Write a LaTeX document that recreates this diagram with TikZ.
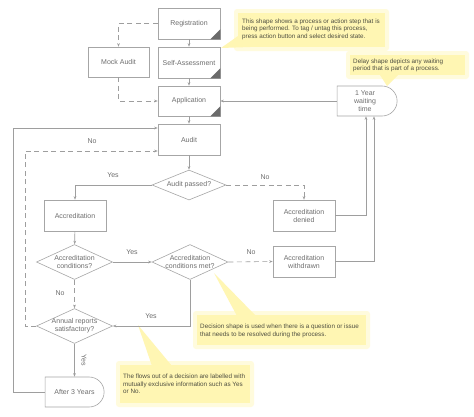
\documentclass[tikz,border=0pt]{standalone}
\usepackage{fontspec}
\setmainfont{Liberation Sans}
\usetikzlibrary{shapes.geometric,shapes.misc,arrows.meta,calc}
\definecolor{ln}{HTML}{9E9E9E}
\definecolor{bd}{HTML}{A6A6A6}
\definecolor{tx}{HTML}{6E6E6E}
\definecolor{ct}{HTML}{4E4E40}
\definecolor{cy}{HTML}{FFF6B3}
\definecolor{cglow}{HTML}{FFFBDD}
\definecolor{crn}{HTML}{6A6A6A}
\begin{document}
\begin{tikzpicture}[x=1pt,y=-1pt]
\tikzset{
  proc/.style={rectangle, draw=bd, line width=0.6pt, fill=white, minimum width=62pt, minimum height=31pt, inner sep=1pt, font=\fontsize{7}{8}\selectfont, text=tx, align=center},
  dec/.style={diamond, draw=bd, line width=0.6pt, fill=white, minimum width=76pt, minimum height=35pt, inner sep=0pt},
  dtext/.style={font=\fontsize{7}{8}\selectfont, text=tx, align=center, inner sep=0pt},
  dly/.style={rounded rectangle, rounded rectangle west arc=none, draw=bd, line width=0.6pt, fill=white, minimum width=62pt, minimum height=30pt, inner sep=1pt, font=\fontsize{7}{8}\selectfont, text=tx, align=center},
  arr/.style={draw=ln, line width=0.6pt, -{Stealth[length=3.5pt,width=2.6pt]}},
  dsh/.style={dash pattern=on 5pt off 3.5pt},
  lbl/.style={font=\fontsize{7}{8}\selectfont, text=tx, inner sep=0pt},
  cbox/.style={fill=cy},
  cglowst/.style={fill=cglow, rounded corners=3pt},
  ctext/.style={font=\fontsize{6.3}{7.6}\selectfont, text=ct, align=left, anchor=north west, inner sep=0pt}
}
\useasboundingbox (0,0) rectangle (474,416);
\fill[white] (0,0) rectangle (474,416);

% ---- callouts (behind) ----
\fill[cglowst] (234,9) rectangle (389,51);
\fill[cbox] (238,36) -- (221,48) -- (250,47) -- cycle;
\fill[cbox] (238,13) rectangle (385,47);
\node[ctext] (c1) at (242,18.3) {This shape shows a process or action step that is\\being performed. To tag / untag this process,\\press action button and select desired state.};

\fill[cglowst] (346,51) rectangle (469,79);
\fill[cbox] (380,75) -- (387,86) -- (398,75) -- cycle;
\fill[cbox] (350,55) rectangle (465,75);
\node[ctext] (c2) at (353,58.5) {Delay shape depicts any waiting\\period that is part of a process.};

\fill[cglowst] (193,311) rectangle (370,349);
\fill[cbox] (214,273) -- (237,316) -- (256,316) -- cycle;
\fill[cbox] (197,315) rectangle (366,345);
\node[ctext] (c3) at (200,323.8) {Decision shape is used when there is a question or issue\\that needs to be resolved during the process.};

\fill[cglowst] (116,361) rectangle (254,407);
\fill[cbox] (138,325) -- (152,366) -- (172,366) -- cycle;
\fill[cbox] (120,365) rectangle (250,403);
\node[ctext] (c4) at (123,373.8) {The flows out of a decision are labelled with\\mutually exclusive information such as Yes\\or No.};

% ---- nodes ----
\node[proc] (reg) at (189,23.5) {Registration};
\node[proc] (self) at (189,62.5) {Self-Assessment};
\node[proc, minimum width=61pt, minimum height=30pt] (mock) at (118.5,62) {Mock Audit};
\node[proc, minimum height=30pt] (app) at (189,101) {Application};
\node[proc] (audit) at (189,139.5) {Audit};
\node[dec, minimum width=74pt, minimum height=30pt] (ap) at (189,185) {};
\node[dtext] (apt) at (ap) {Audit passed?};
\node[proc] (acc) at (75,215.5) {Accreditation};
\node[dec] (acq) at (74.5,262) {};
\node[dtext] (acqt) at (acq) {Accreditation\\conditions?};
\node[dec] (acm) at (190,262) {};
\node[dtext] (acmt) at (acm) {Accreditation\\conditions met?};
\node[dec] (ann) at (74.5,326) {};
\node[dtext] (annt) at (ann) {Annual reports\\satisfactory?};
\node[dly, minimum width=61pt] (aft) at (74.5,392) {After 3 Years};
\node[dly] (yr) at (365,101) {1 Year\\waiting\\time};
\node[proc] (den) at (304,215.5) {Accreditation\\denied};
\node[proc] (wd) at (304,261.5) {Accreditation\\withdrawn};

% process corner marks
\foreach \n in {reg,self,app}{
  \fill[crn] (\n.south east) -- ++(-10,0) -- ++(10,-10) -- cycle;
}

% ---- connectors ----
\draw[arr] (reg) -- (self);
\draw[arr] (self) -- (app);
\draw[arr] (app) -- (audit);
\draw[arr,dsh] (reg.west) -| (mock.north);
\draw[arr,dsh] (mock.south) |- (app.west);
\draw[arr] (yr.west) -- (app.east);
\draw[arr] (audit) -- (ap);
\draw[arr] (ap.west) -| (acc.north);
\node[lbl] (lyes1) at (113,175) {Yes};
\draw[arr,dsh] (ap.east) -| (den.north);
\node[lbl] (lno1) at (265,177) {No};
\draw[arr] (den.east) -| ($(yr.south)+(1,0)$);
\draw[arr] (wd.east) -| ($(yr.south)+(9,0)$);
\draw[arr] (acc) -- (acq);
\draw[arr] (acq.east) -- (acm.west);
\node[lbl] (lyes2) at (132,252) {Yes};
\draw[arr,dsh] (acq.south) -- (ann.north);
\node[lbl] (lno2) at (60,293) {No};
\draw[arr,dsh] (acm.east) -- (wd.west);
\node[lbl] (lno3) at (251,252) {No};
\draw[arr] (acm.south) |- (ann.east);
\node[lbl] (lyes3) at (151,316) {Yes};
\draw[arr] (ann.south) -- (aft.north);
\node[lbl, rotate=-90] (lyes4) at (84,360) {Yes};
\coordinate (dl) at (25,326);
\draw[arr,dsh] (ann.west) -- (dl) |- ($(audit.west)+(0,11.5)$);
\node[lbl] (lno4) at (92,141) {No};
\coordinate (sl) at (13.5,392);
\draw[arr] (aft.west) -- (sl) |- ($(audit.west)+(0,-11.5)$);
\end{tikzpicture}
\end{document}
